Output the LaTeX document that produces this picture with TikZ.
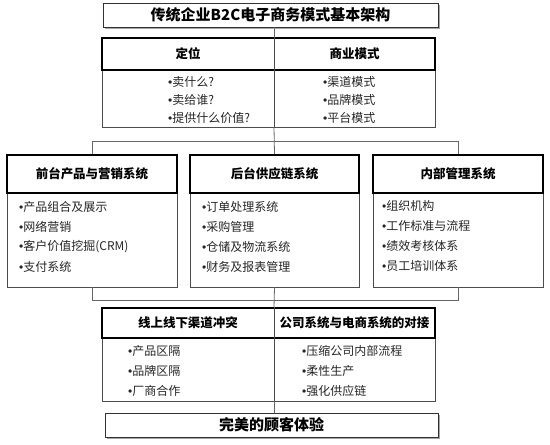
\documentclass[tikz,border=0pt]{standalone}
\usepackage{fontspec}
\setmainfont{Noto Sans CJK SC}
\newfontfamily\bulletfont{Liberation Sans}
\usetikzlibrary{shadows}
\newcommand{\dotitem}{{\bulletfont •}}
\tikzset
{
  TitleNodeStyle/.style =
  {
    shape = rectangle,
    draw = black!80,
    fill = white,
    line width = 0.8pt,
    minimum width = 335pt,
    minimum height = 24pt,
    font = \bfseries\fontsize{15}{18}\selectfont,
    drop shadow = {shadow xshift = 2pt, shadow yshift = -2pt, fill = gray!70, opacity = 1},
  },
  HeadNodeStyle/.style =
  {
    shape = rectangle,
    draw = black,
    fill = white,
    line width = 1.6pt,
    font = \bfseries\fontsize{12.5}{15}\selectfont,
  },
  BodyNodeStyle/.style =
  {
    shape = rectangle,
    draw = black!70,
    fill = white,
    line width = 0.6pt,
  },
  ItemNodeStyle/.style =
  {
    anchor = west,
    inner sep = 0pt,
    text = black!85,
    font = \fontsize{12}{14}\selectfont,
  },
  ColumnNodeStyle/.style =
  {
    inner sep = 0pt,
    font = \bfseries\fontsize{12.5}{15}\selectfont,
  },
  LinkStyle/.style =
  {
    draw = black!60,
    line width = 0.8pt,
  },
}

\begin{document}
\begin{tikzpicture}[x=1pt,y=-1pt]
  \useasboundingbox (0,0) rectangle (550,445);
  \coordinate (Spine) at (274,0);

  % title
  \node[TitleNodeStyle] (Title) at (270.5,15) {传统企业B2C电子商务模式基本架构};

  % positioning and business model
  \node[BodyNodeStyle, minimum width=333pt, minimum height=57pt] (PosBody) at (268.5,98.5) {};
  \node[HeadNodeStyle, minimum width=333pt, minimum height=32pt] (PosHead) at (268.5,54) {};
  \draw[LinkStyle, draw=black!70] (PosHead.north -| Spine) -- (PosBody.south -| Spine);
  \node[ColumnNodeStyle] (PosLeft) at (188,54) {定位};
  \node[ColumnNodeStyle] (PosRight) at (354.5,54) {商业模式};
  \foreach \txt [count=\i] in {卖什么?, 卖给谁?, 提供什么价值?}
    \node[ItemNodeStyle] (PosLeftItem\i) at (168,64+18*\i) {\dotitem\txt};
  \foreach \txt [count=\i] in {渠道模式, 品牌模式, 平台模式}
    \node[ItemNodeStyle] (PosRightItem\i) at (323,64+18*\i) {\dotitem\txt};

  % three systems
  \node[BodyNodeStyle, minimum width=170pt, minimum height=94pt] (FrontBody) at (92,240) {};
  \node[HeadNodeStyle, minimum width=170pt, minimum height=38pt] (FrontHead) at (92,174) {前台产品与营销系统};
  \foreach \txt [count=\i] in {产品组合及展示, 网络营销, 客户价值挖掘(CRM), 支付系统}
    \node[ItemNodeStyle] (FrontItem\i) at (19,187+20*\i) {\dotitem\txt};

  \node[BodyNodeStyle, minimum width=169pt, minimum height=94pt] (BackBody) at (274.5,240) {};
  \node[HeadNodeStyle, minimum width=169pt, minimum height=38pt] (BackHead) at (274.5,174) {后台供应链系统};
  \foreach \txt [count=\i] in {订单处理系统, 采购管理, 仓储及物流系统, 财务及报表管理}
    \node[ItemNodeStyle] (BackItem\i) at (202,187+20*\i) {\dotitem\txt};

  \node[BodyNodeStyle, minimum width=170pt, minimum height=94pt] (InnerBody) at (458,240) {};
  \node[HeadNodeStyle, minimum width=170pt, minimum height=38pt] (InnerHead) at (458,174) {内部管理系统};
  \foreach \txt [count=\i] in {组织机构, 工作标准与流程, 绩效考核体系, 员工培训体系}
    \node[ItemNodeStyle] (InnerItem\i) at (382,186+20*\i) {\dotitem\txt};

  % channel conflict and system docking
  \node[BodyNodeStyle, minimum width=333pt, minimum height=63pt] (DockBody) at (268.5,369.5) {};
  \node[HeadNodeStyle, minimum width=333pt, minimum height=30pt] (DockHead) at (268.5,323) {};
  \draw[LinkStyle, draw=black!70] (DockHead.north -| Spine) -- (DockBody.south -| Spine);
  \node[ColumnNodeStyle] (DockLeft) at (188,323) {线上线下渠道冲突};
  \node[ColumnNodeStyle] (DockRight) at (354.5,323) {公司系统与电商系统的对接};
  \foreach \txt [count=\i] in {产品区隔, 品牌区隔, 厂商合作}
    \node[ItemNodeStyle] (DockLeftItem\i) at (128,331+20*\i) {\dotitem\txt};
  \foreach \txt [count=\i] in {压缩公司内部流程, 柔性生产, 强化供应链}
    \node[ItemNodeStyle] (DockRightItem\i) at (302,331+20*\i) {\dotitem\txt};

  % goal
  \node[TitleNodeStyle, minimum width=333pt] (Goal) at (271.5,425) {完美的顾客体验};

  % connectors
  \draw[LinkStyle] (Title.south -| Spine) -- (PosHead.north -| Spine);
  \draw[LinkStyle] (PosBody.south -| Spine) -- (BackHead.north);
  \draw[LinkStyle] (FrontHead.north) -- ++(0,-13) -| (InnerHead.north);
  \draw[LinkStyle] (FrontBody.south) -- ++(0,13) -| (InnerBody.south);
  \draw[LinkStyle] (BackBody.south) -- (DockHead.north -| Spine);
  \draw[LinkStyle] (DockBody.south -| Spine) -- (Goal.north -| Spine);
\end{tikzpicture}
\end{document}
